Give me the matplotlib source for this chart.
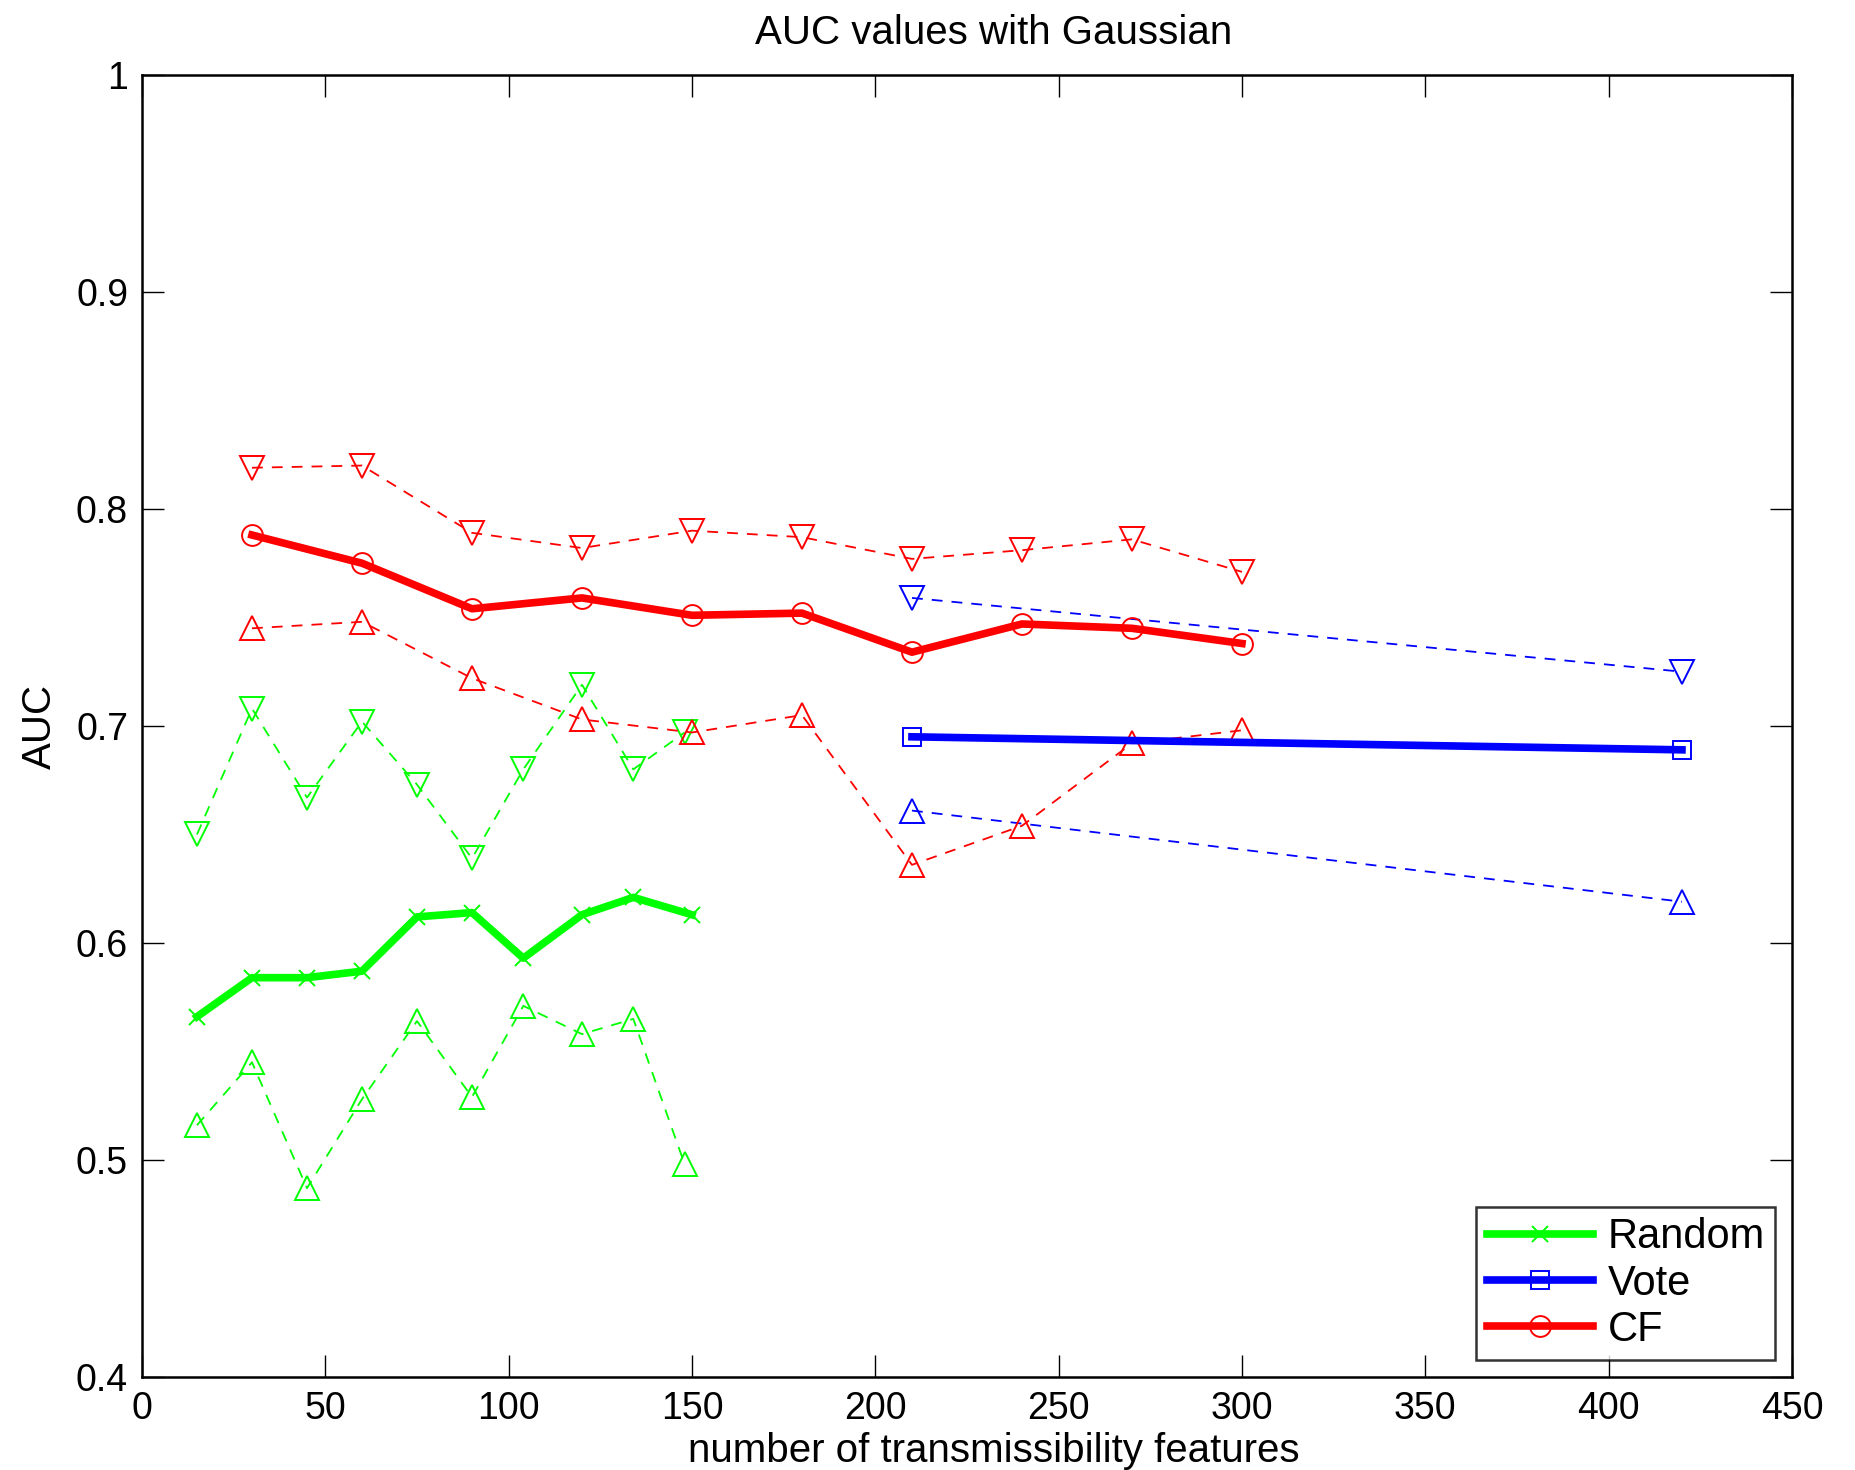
import matplotlib.pyplot as plt
from matplotlib.ticker import FixedLocator, FixedFormatter

plt.rcParams['font.family'] = ['Liberation Sans', 'DejaVu Sans']

# Random (green)
x_rand = [15, 30, 45, 60, 75, 90, 104, 120, 134, 150]
auc_rand = [0.566, 0.584, 0.584, 0.587, 0.612, 0.614, 0.593, 0.613, 0.621, 0.613]
x_rand_band = [15, 30, 45, 60, 75, 90, 104, 120, 134, 148]
rand_hi = [0.650, 0.708, 0.667, 0.702, 0.673, 0.639, 0.680, 0.719, 0.680, 0.697]
rand_lo = [0.516, 0.545, 0.487, 0.528, 0.564, 0.529, 0.571, 0.558, 0.565, 0.498]

# Vote (blue)
x_vote = [210, 420]
auc_vote = [0.695, 0.689]
vote_hi = [0.759, 0.725]
vote_lo = [0.661, 0.619]

# CF (red)
x_cf = [30, 60, 90, 120, 150, 180, 210, 240, 270, 300]
auc_cf = [0.788, 0.775, 0.754, 0.759, 0.751, 0.752, 0.734, 0.747, 0.745, 0.738]
cf_hi = [0.819, 0.820, 0.789, 0.782, 0.790, 0.787, 0.777, 0.781, 0.786, 0.771]
cf_lo = [0.745, 0.748, 0.722, 0.703, 0.697, 0.705, 0.636, 0.654, 0.692, 0.698]

x_ticks = [0, 50, 100, 150, 200, 250, 300, 350, 400, 450]
y_ticks = [0.4, 0.5, 0.6, 0.7, 0.8, 0.9, 1.0]
y_ticklabels = ['0.4', '0.5', '0.6', '0.7', '0.8', '0.9', '1']

fig = plt.figure(figsize=(18.56, 14.7), dpi=100)
ax = fig.add_axes([0.0765, 0.0633, 0.889, 0.8857])

green, blue, red = '#00ff00', '#0000ff', '#ff0000'
band = dict(linestyle='--', linewidth=1.3, markersize=17, markerfacecolor='none',
            markeredgewidth=1.4, dashes=(6, 5))

ax.plot(x_rand_band, rand_hi, color=green, marker='v', **band)
ax.plot(x_rand_band, rand_lo, color=green, marker='^', **band)
ax.plot(x_vote, vote_hi, color=blue, marker='v', **band)
ax.plot(x_vote, vote_lo, color=blue, marker='^', **band)
ax.plot(x_cf, cf_hi, color=red, marker='v', **band)
ax.plot(x_cf, cf_lo, color=red, marker='^', **band)

ax.plot(x_rand, auc_rand, color=green, linewidth=5.5, marker='x', markersize=11,
        markeredgewidth=1.4, label='Random')
ax.plot(x_vote, auc_vote, color=blue, linewidth=5.5, marker='s', markersize=13,
        markerfacecolor='none', markeredgewidth=1.4, label='Vote')
ax.plot(x_cf, auc_cf, color=red, linewidth=5.5, marker='o', markersize=15,
        markerfacecolor='none', markeredgewidth=1.4, label='CF')

ax.set_xlim(0, 450)
ax.set_ylim(0.4, 1.0)
ax.xaxis.set_major_locator(FixedLocator(x_ticks))
ax.yaxis.set_major_locator(FixedLocator(y_ticks))
ax.yaxis.set_major_formatter(FixedFormatter(y_ticklabels))
ax.tick_params(direction='in', length=16, width=1, top=True, right=True,
               labelsize=27, pad=10)
for s in ax.spines.values():
    s.set_linewidth(1.8)

ax.set_title('AUC values with Gaussian', fontsize=29, pad=22, x=0.516)
ax.set_ylabel('AUC', fontsize=29, labelpad=12)
ax.set_xlabel('number of transmissibility features', fontsize=29, va='center')
ax.xaxis.set_label_coords(0.516, -0.057)

leg = ax.legend(loc='lower right', fontsize=30, frameon=True, fancybox=False,
                edgecolor='black', handlelength=2.55, borderpad=0.25,
                labelspacing=0.15, handletextpad=0.35, borderaxespad=0.4)
leg.get_frame().set_linewidth(1.8)

fig.text(-0.004, 0.918, ')', fontsize=34, va='center', ha='center')

fig.savefig('out.png', dpi=100)
